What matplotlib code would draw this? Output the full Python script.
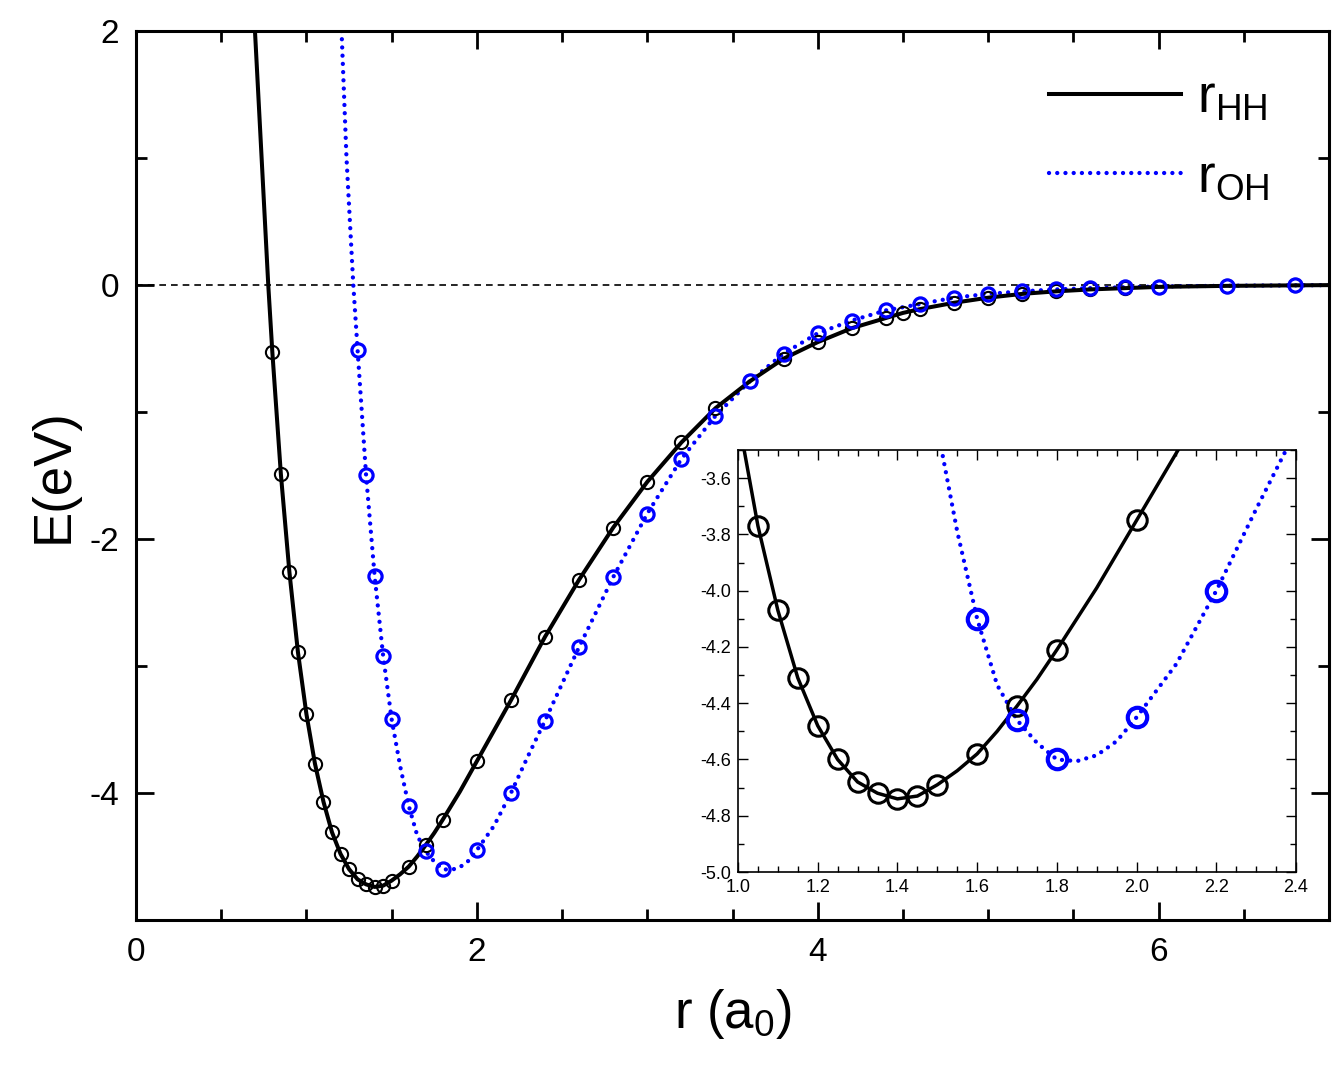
import numpy as np
import matplotlib
matplotlib.use('Agg')
from matplotlib import pyplot as plt
from matplotlib.ticker import MultipleLocator, FormatStrFormatter

plt.rcParams['font.family'] = ['Liberation Sans', 'DejaVu Sans']
plt.rcParams['mathtext.fontset'] = 'custom'
plt.rcParams['mathtext.rm'] = 'Liberation Sans'
plt.rcParams['mathtext.it'] = 'Liberation Sans:italic'
plt.rcParams['axes.unicode_minus'] = False

# H-H curve, points with markers (r in a0, E in eV)
hh_r = [0.80, 0.85, 0.90, 0.95, 1.00, 1.05, 1.10, 1.15, 1.20, 1.25, 1.30, 1.35,
        1.40, 1.45, 1.50, 1.60, 1.70, 1.80, 2.00, 2.20, 2.40, 2.60, 2.80, 3.00,
        3.20, 3.40, 3.60, 3.80, 4.00, 4.20, 4.40, 4.50, 4.60, 4.80, 5.00, 5.20,
        5.40, 5.60, 5.80, 6.00, 6.40, 6.80]
hh_e = [-0.53, -1.49, -2.26, -2.89, -3.38, -3.77, -4.07, -4.31, -4.48, -4.60,
        -4.68, -4.72, -4.74, -4.73, -4.69, -4.58, -4.41, -4.21, -3.75, -3.27,
        -2.77, -2.32, -1.91, -1.55, -1.24, -0.97, -0.76, -0.58, -0.45, -0.34,
        -0.26, -0.22, -0.19, -0.14, -0.10, -0.07, -0.05, -0.035, -0.025, -0.015,
        -0.007, -0.003]
# extra points of the drawn H-H curve (no markers)
hh_line_r = [0.698, 0.737, 0.776, 1.55, 1.65, 1.75, 1.90, 2.10, 7.00]
hh_line_e = [2.00, 1.00, 0.00, -4.64, -4.50, -4.315, -3.99, -3.51, -0.001]

# O-H curve, points with markers
oh_r = [1.30, 1.35, 1.40, 1.45, 1.50, 1.60, 1.70, 1.80, 2.00, 2.20, 2.40, 2.60,
        2.80, 3.00, 3.20, 3.40, 3.60, 3.80, 4.00, 4.20, 4.40, 4.60, 4.80, 5.00,
        5.20, 5.40, 5.60, 5.80, 6.00, 6.40, 6.80]
oh_e = [-0.51, -1.50, -2.29, -2.92, -3.42, -4.10, -4.46, -4.60, -4.45, -4.00,
        -3.43, -2.85, -2.30, -1.80, -1.37, -1.03, -0.76, -0.54, -0.38, -0.28,
        -0.20, -0.15, -0.10, -0.07, -0.05, -0.035, -0.025, -0.018, -0.012,
        -0.006, -0.003]
oh_line_r = [1.206, 1.235, 1.275, 1.55, 1.65, 1.75, 1.85, 1.90, 1.95, 2.10, 2.30, 7.00]
oh_line_e = [2.00, 1.00, 0.00, -3.79, -4.335, -4.541, -4.606, -4.585, -4.535, -4.26, -3.71, -0.001]

BLUE = '#0000ff'
DOTS = (0, (0.01, 1.9))

def curve(r, e, r2, e2):
    x = np.array(r + r2)
    y = np.array(e + e2)
    o = np.argsort(x)
    return x[o], y[o]

hx, hy = curve(hh_r, hh_e, hh_line_r, hh_line_e)
ox, oy = curve(oh_r, oh_e, oh_line_r, oh_line_e)

fig = plt.figure(figsize=(13.36, 10.65), dpi=100)
ax = fig.add_axes([0.1018, 0.1362, 0.893, 0.8347])

ax.axhline(0, color='black', lw=1.2, ls=(0, (4, 3)), zorder=1)
l_oh, = ax.plot(ox, oy, color=BLUE, lw=3.1, ls=DOTS,
                dash_capstyle='round', label=r'r$_{\mathrm{OH}}$', zorder=2)
l_hh, = ax.plot(hx, hy, color='black', lw=2.9, label=r'r$_{\mathrm{HH}}$', zorder=3)
ax.plot(hh_r, hh_e, 'o', mfc='none', mec='black', ms=9.5, mew=1.5, zorder=4)
ax.plot(oh_r, oh_e, 'o', mfc='none', mec=BLUE, ms=9.5, mew=2.3, zorder=5)

ax.set_xlim(0, 7)
ax.set_ylim(-5, 2)
ax.xaxis.set_major_locator(MultipleLocator(2))
ax.xaxis.set_minor_locator(MultipleLocator(0.5))
ax.yaxis.set_major_locator(MultipleLocator(2))
ax.yaxis.set_minor_locator(MultipleLocator(1))
ax.tick_params(which='both', direction='in', top=True, right=True, width=2)
ax.tick_params(which='major', length=13, labelsize=24, pad=12)
ax.tick_params(which='minor', length=8)
for s in ax.spines.values():
    s.set_linewidth(2.2)
ax.set_xlabel(r'r (a$_{\mathrm{0}}$)', fontsize=38, labelpad=14)
ax.set_ylabel('E(eV)', fontsize=38, labelpad=8)

leg = ax.legend(handles=[l_hh, l_oh], loc='upper right', frameon=False,
                fontsize=38, handlelength=2.5, labelspacing=0.55,
                handletextpad=0.3, borderaxespad=0.4,
                bbox_to_anchor=(0.985, 1.0))

# inset
ins = fig.add_axes([0.5524, 0.1812, 0.4177, 0.3963])
ins.plot(ox, oy, color=BLUE, lw=3.1, ls=DOTS, dash_capstyle='round', zorder=2)
ins.plot(hx, hy, color='black', lw=2.5, zorder=3)
ins.plot(hh_r, hh_e, 'o', mfc='none', mec='black', ms=14, mew=2.2, zorder=4)
ins.plot(oh_r, oh_e, 'o', mfc='none', mec=BLUE, ms=14, mew=3, zorder=5)
ins.set_xlim(1.0, 2.4)
ins.set_ylim(-5.0, -3.5)
ins.xaxis.set_major_locator(MultipleLocator(0.2))
ins.xaxis.set_minor_locator(MultipleLocator(0.05))
ins.yaxis.set_major_locator(MultipleLocator(0.2))
ins.yaxis.set_minor_locator(MultipleLocator(0.1))
ins.xaxis.set_major_formatter(FormatStrFormatter('%.1f'))
ins.yaxis.set_major_formatter(FormatStrFormatter('%.1f'))
ins.tick_params(which='both', direction='in', top=True, right=True, width=1)
ins.tick_params(which='major', length=7, labelsize=13, pad=5)
ins.tick_params(which='minor', length=4)
for s in ins.spines.values():
    s.set_linewidth(1.2)

fig.savefig('out.png', dpi=100)
